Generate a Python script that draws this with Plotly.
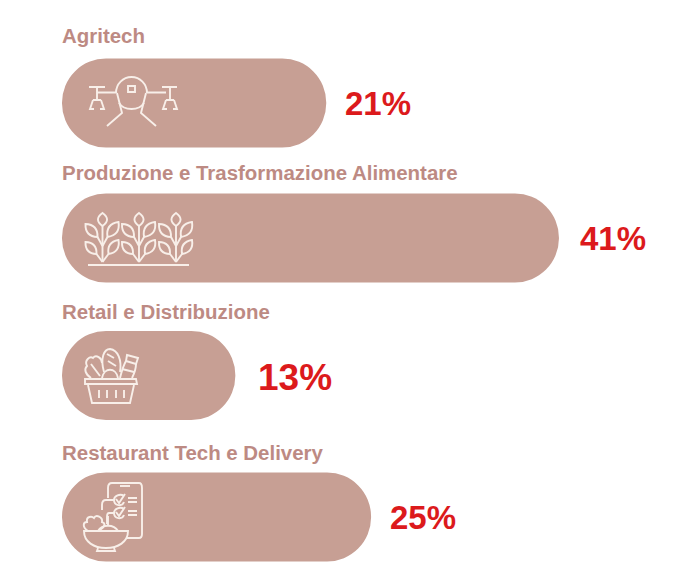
"""Four pill-shaped sector bars with line icons and red share labels."""

import plotly.graph_objects as go

WIDTH = 689
HEIGHT = 575

sectors = [
    "Agritech",
    "Produzione e Trasformazione Alimentare",
    "Retail e Distribuzione",
    "Restaurant Tech e Delivery",
]
shares = [21, 41, 13, 25]
# drawn lengths, the source bars are not quite proportional
bar_lengths = [21.8, 41.0, 14.3, 25.5]

# layout, in page pixels
row_centres = [103, 238, 375.5, 517]
title_centres = [35, 172, 311, 452]
label_centres = [103, 238, 377, 517]
label_gaps = [17, 19, 21, 17]
label_sizes = [33, 33, 37, 33]
left_px = 62
px_per_unit = 12.12

BAR = "#c79f94"
TITLE = "#bd8a83"
RED = "#dc1a1c"
ICON = "#f8efe9"


def leaf(bx, by, tx, ty, bulge=0.5):
    """Closed leaf outline from base to tip."""
    nx, ny = -(ty - by) * bulge, (tx - bx) * bulge
    mx, my = (bx + tx) / 2, (by + ty) / 2
    return (
        f"M{bx},{by} Q{mx + nx},{my + ny} {tx},{ty} "
        f"Q{mx - nx},{my - ny} {bx},{by} Z"
    )


def plant(x):
    """One seedling of the farming icon."""
    return [
        f"M{x},262 L{x},226",
        leaf(x, 226, x, 213, 0.7),
        f"M{x},246 L{x - 5},237",
        leaf(x - 5, 237, x - 17, 224),
        f"M{x},246 L{x + 5},237",
        leaf(x + 5, 237, x + 16, 222),
        f"M{x},262 L{x - 6},254",
        leaf(x - 6, 254, x - 17, 242),
        f"M{x},262 L{x + 6},254",
        leaf(x + 6, 254, x + 16, 240),
    ]


drone = [
    "M97,92.5 L116,92.5 M147,92.5 L166,92.5",
    "M89,87 L105,87 M162,87 L177,87",
    "M97,87 L97,100 M170,87 L170,100",
    "M93,100 L101,100 M166,100 L174,100",
    "M93,100 L90,109 L94,109 M101,100 L104,109 L100,109",
    "M166,100 L163,109 L167,109 M174,100 L177,109 L173,109",
    "M116,93 C116,84 123,77 131.5,77 C140,77 147,84 147,93",
    "M117,93 L122,113 L107,126",
    "M146,93 L141,113 L156,126",
    "M119,103 C124,111 139,111 144,103",
    "M128,86 L135,86 L135,92 L128,92 Z",
]

farm = ["M88,265 L189,265"]
for stem in (102.5, 139, 176):
    farm += plant(stem)

basket = [
    "M85,379 L136,379 L137,384 L85,384 Z",
    "M88,385 L92,403 L130,403 L134,385",
    "M99,390 L99,398 M107,390 L107,398 M116,390 L116,398 M124,390 L124,398",
    # lettuce
    "M91,378 C85,374 84,369 87,366 C84,360 90,356 93,358 C96,354 102,358 102,363 "
    "M91,364 L100,376",
    # bread
    "M104,372 C100,358 104,349 110,349 C118,350 122,360 120,372 "
    "M107,354 L114,358 M108,361 L116,366",
    # bun
    "M102,378 C104,367 116,367 118,378",
    # bottle
    "M127,355 L138,358 L136,364 L126,361 Z",
    "M126,361 C123,366 122,370 120,378 M136,364 C136,370 134,374 132,378",
    "M122,369 L134,372",
]

delivery = [
    # phone
    "M108,498 L108,488 C108,485 109,483 112,483 L139,483 C141,483 142,485 142,488 "
    "L142,534 C142,537 141,538 139,538 L126,538",
    "M108,516 L108,525",
    "M120,486 L130,486",
    # checklist
    "M124,496 C120,493 114,496 114,500 C114,506 122,507 124,502",
    "M116,499 L119,503 L125,494",
    "M124,509 C120,506 114,509 114,513 C114,519 122,520 124,515",
    "M116,512 L119,516 L125,507",
    "M128,498 L137,498 M128,502 L137,502 M128,511 L137,511 M128,515 L137,515",
    # wires
    "M114,500 L106,500 C103,500 102,502 102,505 L102,510",
    "M114,513 L109,513 C107,513 107,515 107,517 L107,524",
    # salad
    "M88,531 C82,527 83,522 87,522 C86,516 92,516 94,518 C96,514 103,517 102,522 "
    "C106,523 105,527 100,530",
    "M98,531 C102,524 114,524 118,531",
    # bowl
    "M84,531 L128,531 C128,542 118,548 106,548 C94,548 84,542 84,531 Z",
    "M98,548 L97,551 L115,551 L114,548",
]

fig = go.Figure()
# a set base makes plotly round both ends of the bar
fig.add_trace(
    go.Bar(
        x=bar_lengths,
        y=row_centres,
        base=0.001,
        orientation="h",
        width=89,
        marker=dict(color=BAR, line=dict(width=0), cornerradius=44),
        customdata=sectors,
        hovertemplate="%{customdata}<extra></extra>",
    )
)

for sector, centre in zip(sectors, title_centres):
    fig.add_annotation(
        x=0, xshift=-2, y=centre, text=f"<b>{sector}</b>", showarrow=False,
        xanchor="left",
        font=dict(family="Liberation Sans", size=20.45, color=TITLE),
    )
for share, length, centre, gap, size in zip(
    shares, bar_lengths, label_centres, label_gaps, label_sizes
):
    fig.add_annotation(
        x=length, y=centre, xshift=gap, text=f"<b>{share}%</b>", showarrow=False,
        xanchor="left",
        font=dict(family="Liberation Sans", size=size, color=RED),
    )

# icons live on a hidden pixel axis laid over the bars
for path in drone + farm + basket + delivery:
    fig.add_shape(
        type="path", path=path, xref="x2", yref="y", layer="above",
        line=dict(color=ICON, width=1.9), fillcolor="rgba(0,0,0,0)",
    )

fig.update_layout(
    width=WIDTH,
    height=HEIGHT,
    margin=dict(l=0, r=0, t=0, b=0),
    paper_bgcolor="white",
    plot_bgcolor="white",
    showlegend=False,
    xaxis=dict(
        visible=False,
        range=[-left_px / px_per_unit, (WIDTH - left_px) / px_per_unit],
    ),
    xaxis2=dict(visible=False, overlaying="x", range=[0, WIDTH]),
    yaxis=dict(visible=False, range=[HEIGHT, 0]),
)

fig.write_html(
    "out.html",
    config={"displayModeBar": False},
    post_script="document.body.style.margin = '0';",
)
